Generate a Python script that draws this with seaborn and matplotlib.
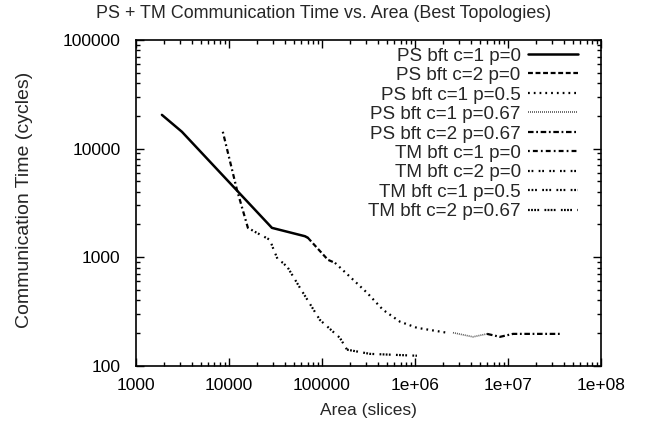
import numpy as np
import pandas as pd
import matplotlib
matplotlib.use("Agg")
import matplotlib.pyplot as plt
import seaborn as sns

# Values (area in slices, time in cycles)
ps_c1_p0_area = [1905, 3125, 29000, 65600, 70600]
ps_c1_p0_time = [20400, 14260, 1862, 1560, 1509]
ps_c2_p0_area = [70600, 116000, 138000]
ps_c2_p0_time = [1509, 946, 888]
ps_c1_p05_area = [138000, 200000, 305000, 453000, 690000, 1050000, 2200000]
ps_c1_p05_time = [888, 661, 471, 328, 255, 224, 202]
ps_c1_p067_area = [2560000, 4200000, 5950000]
ps_c1_p067_time = [202, 185, 197]
ps_c2_p067_area = [5950000, 8200000, 11300000, 36000000]
ps_c2_p067_time = [197, 185, 197, 197]

tm_c1_p0_area = [8600, 12200, 16000, 19000]
tm_c1_p0_time = [14260, 4170, 1862, 1714]
tm_c2_p0_area = [19000, 27600, 29700, 33600, 38100, 43100]
tm_c2_p0_time = [1714, 1445, 1222, 946, 888, 798]
tm_c1_p05_area = [43100, 58000, 95000, 156000, 186000]
tm_c1_p05_time = [798, 523, 265, 181, 141]
tm_c2_p067_area = [186000, 328000, 1050000]
tm_c2_p067_time = [141, 129, 124]

series_labels = ["PS bft c=1 p=0", "PS bft c=2 p=0", "PS bft c=1 p=0.5",
                 "PS bft c=1 p=0.67", "PS bft c=2 p=0.67", "TM bft c=1 p=0",
                 "TM bft c=2 p=0", "TM bft c=1 p=0.5", "TM bft c=2 p=0.67"]

x_ticks = [1e3, 1e4, 1e5, 1e6, 1e7, 1e8]
x_tick_labels = ["1000", "10000", "100000", "1e+06", "1e+07", "1e+08"]
y_ticks = [1e2, 1e3, 1e4, 1e5]
y_tick_labels = ["100", "1000", "10000", "100000"]

series = [
    (ps_c1_p0_area, ps_c1_p0_time),
    (ps_c2_p0_area, ps_c2_p0_time),
    (ps_c1_p05_area, ps_c1_p05_time),
    (ps_c1_p067_area, ps_c1_p067_time),
    (ps_c2_p067_area, ps_c2_p067_time),
    (tm_c1_p0_area, tm_c1_p0_time),
    (tm_c2_p0_area, tm_c2_p0_time),
    (tm_c1_p05_area, tm_c1_p05_time),
    (tm_c2_p067_area, tm_c2_p067_time),
]

# gnuplot-like dash patterns
styles = [
    ("-", 1.8, "black"),
    ((0, (2.2, 1.2)), 1.6, "black"),
    ((0, (0.8, 1.8)), 1.6, "black"),
    ((0, (0.6, 0.6)), 1.2, "#555555"),
    ((0, (2.5, 1.2, 0.8, 1.2)), 1.6, "black"),
    ((0, (0.8, 1.4, 2.2, 1.4)), 1.6, "black"),
    ((0, (0.8, 0.8, 0.8, 2.4)), 1.6, "black"),
    ((0, (0.8, 0.8, 0.8, 0.8, 0.8, 2.4)), 1.6, "black"),
    ((0, (0.8, 0.6, 0.8, 0.6, 0.8, 0.6, 0.8, 2.4)), 1.6, "black"),
]

sns.set_style("ticks")
plt.rcParams["font.family"] = ["Liberation Sans", "DejaVu Sans"]

fig = plt.figure(figsize=(6.47, 4.33), dpi=100)
ax = fig.add_axes([0.210, 0.155, 0.719, 0.753])

for (xs, ys), label, (ls, lw, col) in zip(series, series_labels, styles):
    df = pd.DataFrame({"Area": xs, "Time": ys})
    sns.lineplot(data=df, x="Area", y="Time", ax=ax, sort=False, color=col,
                 linestyle=ls, linewidth=lw, label=label)

ax.set_xscale("log")
ax.set_yscale("log")
ax.set_xlim(1e3, 1e8)
ax.set_ylim(1e2, 1e5)
ax.set_xticks(x_ticks, x_tick_labels)
ax.set_yticks(y_ticks, y_tick_labels)
ax.xaxis.set_minor_locator(matplotlib.ticker.LogLocator(base=10, subs=np.arange(2, 10)))
ax.yaxis.set_minor_locator(matplotlib.ticker.LogLocator(base=10, subs=np.arange(2, 10)))
ax.xaxis.set_minor_formatter(matplotlib.ticker.NullFormatter())
ax.yaxis.set_minor_formatter(matplotlib.ticker.NullFormatter())
ax.tick_params(which="both", direction="in", top=True, right=True, colors="black", width=1)
ax.tick_params(which="major", length=6, labelsize=12.5)
ax.tick_params(axis="x", which="major", pad=9)
ax.tick_params(axis="y", which="major", pad=11)
ax.tick_params(which="minor", length=3)
for sp in ax.spines.values():
    sp.set_color("black")
    sp.set_linewidth(1.2)

# title is centred on the whole figure, as gnuplot does
fig.text(0.5, 1 - 13 / 433, "PS + TM Communication Time vs. Area (Best Topologies)",
         fontsize=12.9, ha="center", va="center")
ax.set_xlabel("Area (slices)", fontsize=12.5)
ax.set_ylabel("Communication Time (cycles)", fontsize=14)
ax.xaxis.set_label_coords(0.5, -0.113)
ax.yaxis.set_label_coords(-0.222, 0.509)

leg = ax.legend(loc="upper right", bbox_to_anchor=(0.951, 0.977), frameon=False,
                markerfirst=False, fontsize=13.6, handlelength=2.65,
                handletextpad=0.4, labelspacing=0.12, borderpad=0, borderaxespad=0)

fig.savefig("out.png", dpi=100)
